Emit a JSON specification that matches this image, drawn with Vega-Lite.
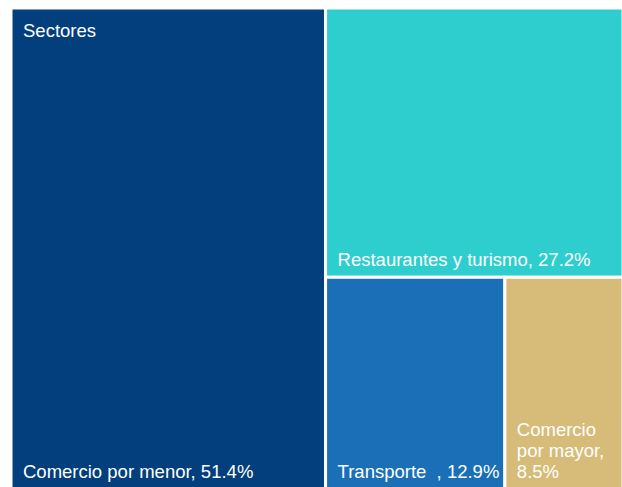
{
  "$schema": "https://vega.github.io/schema/vega-lite/v6.json",
  "width": 612,
  "height": 481,
  "autosize": {"type": "none"},
  "padding": {"left": 11, "top": 8, "right": 0, "bottom": 0},
  "background": "white",
  "config": {"view": {"stroke": null}},
  "data": {
    "values": [
      {"sector": "Comercio por menor", "valor": 51.4, "etiqueta": "Comercio por menor, 51.4%"},
      {"sector": "Restaurantes y turismo", "valor": 27.2, "etiqueta": "Restaurantes y turismo, 27.2%"},
      {"sector": "Transporte", "valor": 12.9, "etiqueta": "Transporte\u00a0 , 12.9%"},
      {"sector": "Comercio por mayor", "valor": 8.5, "etiqueta": "Comercio\npor mayor,\n8.5%"}
    ]
  },
  "transform": [
    {
      "window": [
        {"op": "rank", "as": "r"},
        {"op": "nth_value", "field": "valor", "param": 1, "as": "v1"},
        {"op": "nth_value", "field": "valor", "param": 2, "as": "v2"},
        {"op": "nth_value", "field": "valor", "param": 3, "as": "v3"}
      ],
      "sort": [{"field": "valor", "order": "descending"}],
      "frame": [null, null]
    },
    {"joinaggregate": [{"op": "sum", "field": "valor", "as": "total"}]},
    {"calculate": "100 * datum.v1 / datum.total", "as": "xw"},
    {"calculate": "datum.total - datum.v1", "as": "resto"},
    {"calculate": "datum.resto - datum.v2", "as": "abajo"},
    {"calculate": "datum.xw + (100 - datum.xw) * datum.v3 / datum.abajo", "as": "xm"},
    {"calculate": "100 * datum.v2 / datum.resto", "as": "yh"},
    {"calculate": "datum.r == 1 ? 0 : (datum.r == 4 ? datum.xm : datum.xw)", "as": "x0"},
    {"calculate": "datum.r == 1 ? datum.xw : (datum.r == 3 ? datum.xm : 100)", "as": "x1"},
    {"calculate": "datum.r <= 2 ? 0 : datum.yh", "as": "y0"},
    {"calculate": "datum.r == 2 ? datum.yh : 100", "as": "y1"},
    {"calculate": "datum.y1 - (length(split(datum.etiqueta, '\\n')) - 1) * 2100 / 481", "as": "ytexto"}
  ],
  "layer": [
    {
      "mark": {"type": "rect", "stroke": "white", "strokeWidth": 3},
      "encoding": {
        "x": {"field": "x0", "type": "quantitative", "scale": {"domain": [0, 100], "nice": false, "zero": false}, "axis": null},
        "x2": {"field": "x1"},
        "y": {"field": "y0", "type": "quantitative", "scale": {"domain": [0, 100], "nice": false, "reverse": true}, "axis": null},
        "y2": {"field": "y1"},
        "color": {
          "field": "sector",
          "type": "nominal",
          "scale": {
            "domain": ["Comercio por menor", "Restaurantes y turismo", "Transporte", "Comercio por mayor"],
            "range": ["#023F7C", "#2ECECE", "#1A6FB7", "#D6BC78"]
          },
          "legend": null
        },
        "tooltip": [{"field": "sector"}, {"field": "valor"}]
      }
    },
    {
      "mark": {"type": "text", "align": "left", "baseline": "alphabetic", "dx": 12, "dy": -11, "font": "Liberation Sans", "fontSize": 18.5, "lineHeight": 21, "lineBreak": "\n", "color": "white"},
      "encoding": {
        "x": {"field": "x0", "type": "quantitative"},
        "y": {"field": "ytexto", "type": "quantitative"},
        "text": {"field": "etiqueta"}
      }
    },
    {
      "data": {"values": [{"nombre": "Sectores"}]},
      "transform": [],
      "mark": {"type": "text", "align": "left", "baseline": "alphabetic", "dx": 12, "dy": 29, "font": "Liberation Sans", "fontSize": 18.5, "color": "white"},
      "encoding": {
        "x": {"datum": 0, "type": "quantitative"},
        "y": {"datum": 0, "type": "quantitative"},
        "text": {"field": "nombre"}
      }
    }
  ]
}
